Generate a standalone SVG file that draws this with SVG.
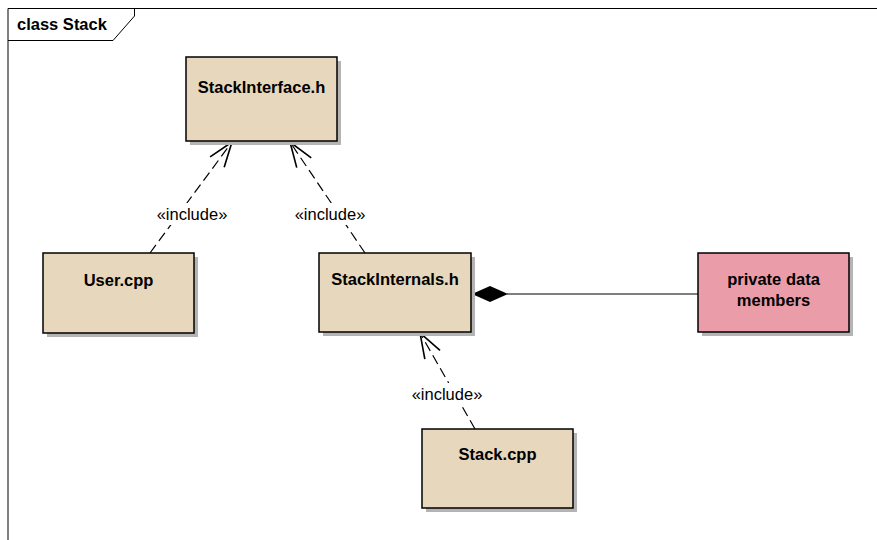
<svg xmlns="http://www.w3.org/2000/svg" width="877" height="540" viewBox="0 0 877 540">
<style>
.frame{fill:none;stroke:#000;stroke-width:1}
.box{fill:#E7D7BD;stroke:#000;stroke-width:1.5}
.pink{fill:#EA9DA9;stroke:#000;stroke-width:1.5}
.shadow{fill:#b4b4b4}
.name{font-family:"Liberation Sans",Arial,sans-serif;font-weight:bold;font-size:16.5px;fill:#000;text-anchor:middle}
.lbl{font-family:"Liberation Sans",Arial,sans-serif;font-size:16.5px;fill:#000;text-anchor:middle}
.dep{fill:none;stroke:#000;stroke-width:1.2;stroke-dasharray:10 5}
.solid{fill:none;stroke:#000;stroke-width:1.2}
</style>
<defs>
<marker id="open" markerUnits="userSpaceOnUse" markerWidth="30" markerHeight="30" viewBox="-22 -10 24 20" refX="0" refY="0" orient="auto">
<path d="M-20,-7 L0,0 L-20,7" fill="none" stroke="#000" stroke-width="1.3"/>
</marker>
</defs>
<rect width="877" height="540" fill="#fff"/>
<g id="frame">
<path class="frame" d="M8,540 L8,8.5 L877,8.5"/>
<path class="frame" d="M8,40.5 L113,40.5 L134.5,16 L134.5,8.5"/>
<text x="17" y="30" font-family="'Liberation Sans',Arial,sans-serif" font-weight="bold" font-size="16.5px">class Stack</text>
</g>
<g id="connectors">
<line class="dep" x1="150" y1="253" x2="232" y2="142" marker-end="url(#open)"/>
<line class="dep" x1="365" y1="253" x2="290" y2="142" marker-end="url(#open)"/>
<line class="dep" x1="475" y1="429" x2="420" y2="333" marker-end="url(#open)"/>
<line class="solid" x1="507" y1="294" x2="698" y2="294"/>
<path d="M472,294 L490,286 L508,294 L490,302 Z" fill="#000"/>
<rect x="154" y="203" width="76" height="22" fill="#fff"/>
<rect x="292" y="203" width="76" height="22" fill="#fff"/>
<rect x="409" y="383" width="76" height="22" fill="#fff"/>
<text class="lbl" x="192" y="220">«include»</text>
<text class="lbl" x="330" y="220">«include»</text>
<text class="lbl" x="447" y="400">«include»</text>
</g>
<g id="StackInterface">
<rect class="shadow" x="190" y="61" width="151" height="84"/>
<rect class="box" x="186" y="57" width="151" height="84"/>
<text class="name" x="261.5" y="93">StackInterface.h</text>
</g>
<g id="UserCpp">
<rect class="shadow" x="47" y="257" width="151" height="80"/>
<rect class="box" x="43" y="253" width="151" height="80"/>
<text class="name" x="118.5" y="286">User.cpp</text>
</g>
<g id="StackInternals">
<rect class="shadow" x="323" y="257" width="152" height="79"/>
<rect class="box" x="319" y="253" width="152" height="79"/>
<text class="name" x="395" y="285">StackInternals.h</text>
</g>
<g id="PrivateData">
<rect class="shadow" x="702" y="257" width="151" height="79"/>
<rect class="pink" x="698" y="253" width="151" height="79"/>
<text class="name" x="773.5" y="285">private data</text>
<text class="name" x="773.5" y="306">members</text>
</g>
<g id="StackCpp">
<rect class="shadow" x="426" y="433" width="151" height="79"/>
<rect class="box" x="422" y="429" width="151" height="79"/>
<text class="name" x="497.5" y="460">Stack.cpp</text>
</g>
</svg>
